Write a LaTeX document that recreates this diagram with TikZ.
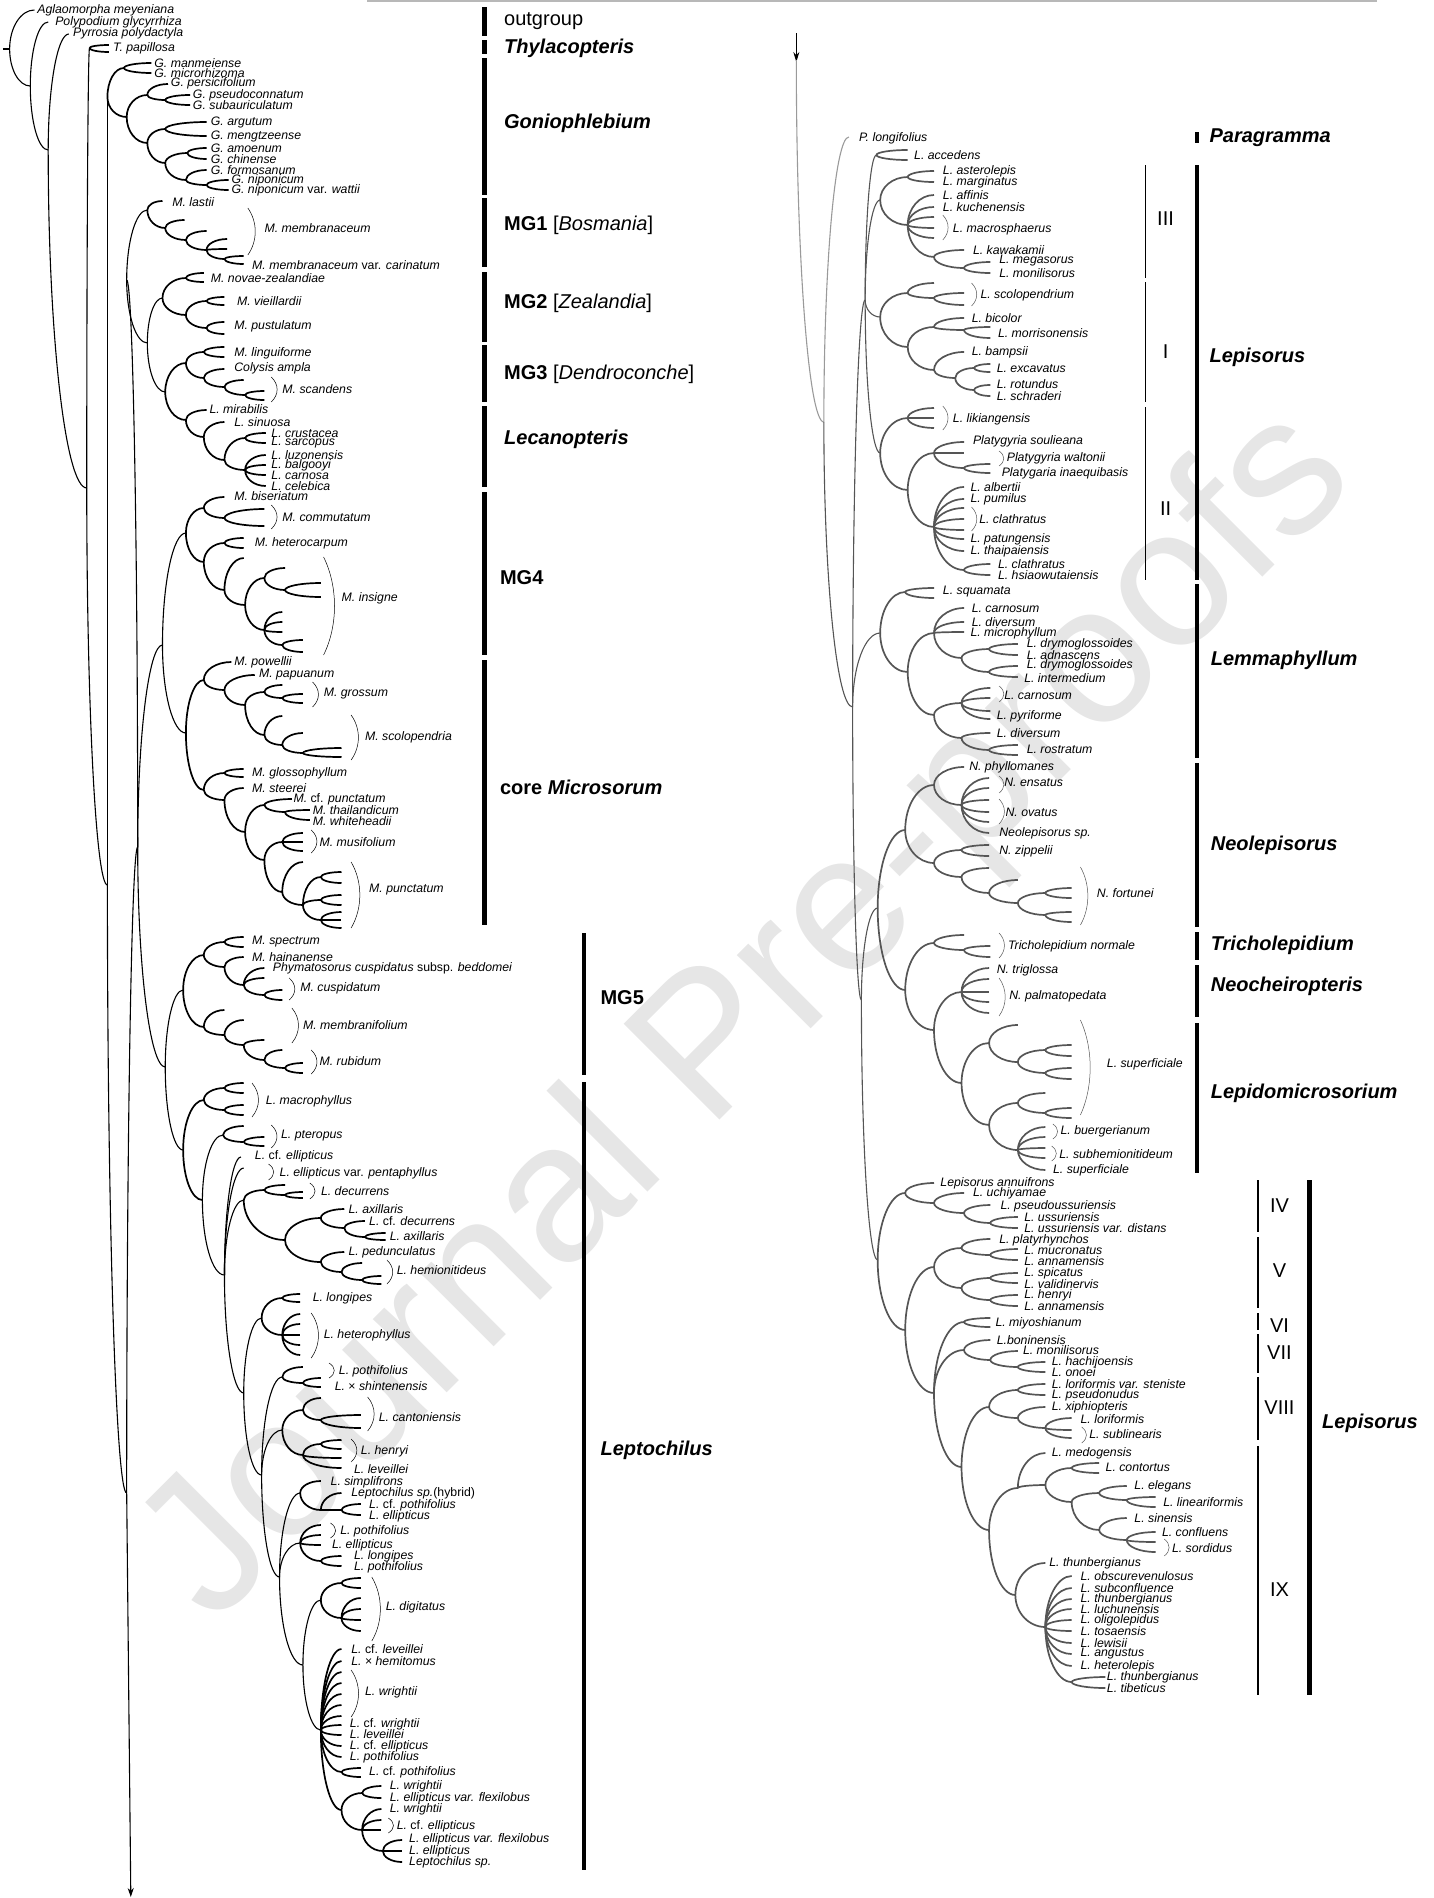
\documentclass[tikz,border=0pt]{standalone}
\usepackage{fontspec}
\setmainfont{Liberation Sans}
\usetikzlibrary{arrows.meta}
\definecolor{lepgray}{HTML}{555555}
\definecolor{rootgray}{HTML}{9A9A9A}
\definecolor{markgray}{HTML}{E6E6E6}

% one clade: parent x, parent y, list of child x/y
\newcommand\cl[4][br]{\foreach \kx/\ky in {#4}{%
  \draw[#1] (#2,#3) .. controls (#2,{#3+0.552*(\ky-#3)}) and ({#2+0.448*(\kx-#2)},\ky) .. (\kx,\ky);}}
% thin bracket round a group of tips
\newcommand\bk[4][bk]{\draw[#1] (#2,#3) .. controls ({#2+4+0.067*(#4-#3)},{#3+0.3*(#4-#3)}) and ({#2+4+0.067*(#4-#3)},{#4-0.3*(#4-#3)}) .. (#2,#4);}
\newcommand\tl[3]{\node[tip] at (#1,#2) {#3};}
\newcommand\nit[1]{\textup{#1}}

\tikzset{
  br/.style={line width=1.7pt},
  bb/.style={line width=1.1pt},
  gbr/.style={line width=1.7pt, draw=lepgray},
  gbb/.style={line width=1.1pt, draw=lepgray},
  rb/.style={line width=1.1pt, draw=rootgray},
  bk/.style={line width=0.5pt},
  gbk/.style={line width=0.5pt, draw=lepgray},
  tip/.style={anchor=west, inner sep=0pt, font=\fontsize{12.3}{13}\selectfont\itshape},
  grp/.style={anchor=west, inner sep=0pt, font=\fontsize{20}{22}\selectfont\bfseries\itshape},
  reg/.style={anchor=west, inner sep=0pt, font=\fontsize{20}{22}\selectfont},
  num/.style={inner sep=0pt, font=\fontsize{20}{22}\selectfont},
  bar/.style={line width=4.5pt},
  nbar/.style={line width=1.8pt},
}

\begin{document}
\begin{tikzpicture}[x=1pt, y=-1pt]
\useasboundingbox (0,0) rectangle (1434,1898);
% watermark
\node[text=markgray, rotate=45, font=\fontsize{197}{197}\selectfont] at (750,1018) {Journal Pre-proofs};
\draw[rootgray!70, line width=2pt] (367,1) -- (1377,1);

% ---------------- left tree ----------------
\begin{scope}[x=1.377pt]
\draw[bb] (2,49) -- (7,49);
\cl[bb]{7}{49}{25/10,22/86}
\cl[bb]{22}{86}{35/22,35/150}
\cl[bb]{35}{150}{50/34,63/488}
\cl[bb]{63}{488}{65/48,78/885}
\cl{65}{48}{79/45,79/52}
\cl[bb]{78}{885}{78/97,92/1493}
\draw[bb, -{Stealth[length=9pt, width=6pt]}] (92,1493) -- (95,1897);
% Goniophlebium
\cl{78}{97}{90/68,92/117}
\cl{90}{68}{110/63,110/73}
\cl{92}{117}{107/95,107/143}
\cl{107}{95}{122/84,120/100}
\cl{120}{100}{138/95,138/105}
\cl{107}{143}{120/129,120/163}
\cl{120}{129}{150/122,150/136}
\cl{120}{163}{136/153,135/180}
\cl{136}{153}{150/148,150/159}
\cl{135}{180}{150/170,150/185}
\cl{150}{185}{166/180,166/190}
% Microsoreae
\cl[bb]{92}{1493}{100/847}
\cl[bb]{100}{847}{92/280,118/645,120/1067}
\cl[bb]{92}{280}{107/210,107/343}
% MG1
\cl{107}{210}{118/201,120/228}
\cl{120}{228}{134/220,135/240}
\cl{135}{240}{150/231,150/250}
\cl{150}{250}{165/239,165/249,163/259}
\cl{163}{259}{177/256,177/264}
% MG2, MG3, Lecanopteris
\cl[bb]{107}{343}{118/298,120/392}
\cl{118}{298}{135/278,135/315}
\cl{135}{278}{148/273,148/282}
\cl{135}{315}{150/301,150/328}
\cl{150}{301}{163/297,163/305}
\cl{150}{328}{163/322,163/334}
\cl{120}{392}{135/363,135/420}
\cl{135}{363}{148/352,148/378}
\cl{148}{352}{163/347,163/357}
\cl{148}{378}{163/369,163/387}
\cl{163}{387}{177/380,178/395}
\cl{178}{395}{192/391,192/400}
\cl{135}{420}{150/410,148/437}
\cl{148}{437}{163/422,163/460}
\cl{163}{460}{178/438,178/470}
\cl{178}{438}{193/433,193/443}
\cl{178}{470}{193/455,193/465,193/475,193/486}
% MG4, core Microsorum
\cl[bb]{118}{645}{135/533,135/733}
\cl{135}{533}{148/508,148/562}
\cl{148}{508}{163/497,163/518}
\cl{163}{518}{192/509,192/526}
\cl{148}{562}{163/543,163/590}
\cl{163}{543}{177/538,177/548}
\cl{163}{590}{177/558,178/605}
\cl{178}{605}{192/578,192/630}
\cl{192}{578}{207/568,207/590}
\cl{207}{590}{233/583,233/597}
\cl{192}{630}{205/612,205/622,205/632,205/645}
\cl{205}{645}{220/640,220/652}
\cl{135}{733}{148/680,148/790}
\cl{148}{680}{168/662,163/690}
\cl{163}{690}{185/675,178/705}
\cl{178}{705}{192/692,192/735}
\cl{192}{692}{205/685,205/698}
\cl{205}{698}{220/694,220/703}
\cl{192}{735}{205/716,205/745}
\cl{205}{745}{220/733,220/753}
\cl{220}{753}{248/748,248/757}
\cl{148}{790}{163/773,163/800}
\cl{163}{773}{177/769,177/777}
\cl{163}{800}{177/788,178/832}
\cl{178}{832}{192/805,192/860}
\cl{192}{805}{212/799,207/812}
\cl{207}{812}{225/810,225/820}
\cl{192}{860}{205/842,205/892}
\cl{205}{842}{220/833,220/842,220/851}
\cl{205}{892}{220/862,220/905}
\cl{220}{905}{233/877,233/900,233/920}
\cl{233}{877}{248/872,248/883}
\cl{233}{900}{248/895,248/905}
\cl{233}{920}{248/912,248/920,248/928}
% MG5, Leptochilus
\cl[bb]{120}{1067}{133/990,133/1150}
\cl{133}{990}{148/955,148/1027}
\cl{148}{955}{163/942,163/967}
\cl{163}{942}{177/937,177/947}
\cl{163}{967}{177/957,177/985}
\cl{177}{985}{192/968,192/978,192/995}
\cl{192}{995}{205/990,205/1000}
\cl{148}{1027}{163/1010,163/1035}
\cl{163}{1035}{177/1020,177/1045}
\cl{177}{1045}{192/1040,192/1060}
\cl{192}{1060}{205/1050,207/1068}
\cl{207}{1068}{220/1063,220/1073}
\cl{133}{1150}{148/1100,147/1200}
\cl{148}{1100}{163/1088,163/1110}
\cl{163}{1088}{177/1083,177/1093}
\cl{163}{1110}{177/1105,177/1115}
\cl[bb]{147}{1200}{162/1135,163/1275}
\cl{162}{1135}{177/1126,177/1142}
\cl{177}{1142}{192/1137,192/1146}
\cl[bb]{163}{1275}{175/1157,177/1168,177/1200,177/1393}
\cl{177}{1200}{192/1190,207/1240}
\cl{192}{1190}{207/1185,207/1195}
\cl{207}{1195}{220/1192,220/1198}
\cl{207}{1240}{233/1218,233/1262}
\cl{233}{1218}{250/1209,250/1228}
\cl{250}{1228}{265/1221,265/1237}
\cl{265}{1237}{280/1233,280/1240}
\cl{233}{1262}{250/1252,248/1272}
\cl{248}{1272}{263/1263,263/1280}
\cl{263}{1280}{277/1276,277/1284}
\cl[bb]{177}{1393}{190/1318,190/1475}
\cl{190}{1318}{205/1298,205/1335}
\cl{205}{1298}{218/1294,218/1302}
\cl{205}{1335}{218/1314,218/1324,218/1335,218/1345,218/1355}
\cl[bb]{190}{1475}{205/1377,205/1430,203/1577}
\cl{205}{1377}{220/1367,220/1383}
\cl{220}{1383}{233/1378,233/1387}
\cl{205}{1430}{220/1410,220/1455}
\cl{220}{1410}{233/1398,233/1420}
\cl{233}{1420}{262/1415,262/1428}
\cl{220}{1455}{233/1444,248/1458,248/1468}
\cl{233}{1444}{248/1440,248/1449}
\cl[bb]{203}{1577}{218/1493,218/1543,220/1665}
\cl{218}{1493}{233/1481,233/1510}
\cl{233}{1510}{248/1493,248/1510}
\cl{248}{1510}{262/1504,262/1515}
\cl{218}{1543}{233/1525,233/1535,233/1545,233/1561}
\cl{233}{1561}{248/1556,248/1566}
\cl[bb]{220}{1665}{233/1600,233/1730}
\cl{233}{1600}{248/1583,248/1618}
\cl{248}{1583}{262/1578,262/1588}
\cl{248}{1618}{262/1598,262/1609,262/1620,262/1631}
\cl{233}{1730}{248/1649,248/1661,248/1672,248/1683,248/1694,248/1705,248/1716,248/1725,248/1735,248/1746,248/1757,248/1772,248/1810}
\cl{248}{1772}{262/1768,262/1777}
\cl{248}{1810}{263/1793,263/1830}
\cl{263}{1793}{277/1786,277/1798}
\cl{263}{1830}{277/1809,277/1820,277/1830,278/1851}
\cl{278}{1851}{292/1840,292/1851,292/1862}

% brackets, left
\bk{180}{208}{255} \bk{197}{377}{402} \bk{197}{505}{529} \bk{235}{557}{655}
\bk{227}{682}{707} \bk{255}{715}{760} \bk{226}{830}{853} \bk{255}{862}{928}
\bk{210}{978}{1000} \bk{212}{1008}{1043} \bk{226}{1050}{1074}
\bk{183}{1083}{1117} \bk{197}{1125}{1148} \bk{195}{1164}{1180} \bk{225}{1183}{1199}
\bk{281}{1260}{1284} \bk{226}{1313}{1358} \bk{239}{1363}{1378} \bk{267}{1397}{1431}
\bk{255}{1439}{1462} \bk{240}{1523}{1538} \bk{270}{1577}{1641} \bk{255}{1670}{1717}
\bk{282}{1818}{1833}

% labels, left
\tl{27}{10}{Aglaomorpha meyeniana}
\tl{40}{22}{Polypodium glycyrrhiza}
\tl{53}{33}{Pyrrosia polydactyla}
\tl{82}{48}{T. papillosa}
\tl{112}{63}{G. manmeiense}
\tl{112}{73}{G. microrhizoma}
\tl{124}{83}{G. persicifolium}
\tl{140}{95}{G. pseudoconnatum}
\tl{140}{105}{G. subauriculatum}
\tl{153}{122}{G. argutum}
\tl{153}{136}{G. mengtzeense}
\tl{153}{148}{G. amoenum}
\tl{153}{159}{G. chinense}
\tl{153}{170}{G. formosanum}
\tl{168}{180}{G. niponicum}
\tl{168}{190}{G. niponicum \nit{var.} wattii}
\tl{125}{202}{M. lastii}
\tl{192}{228}{M. membranaceum}
\tl{183}{265}{M. membranaceum \nit{var.} carinatum}
\tl{153}{278}{M. novae-zealandiae}
\tl{172}{301}{M. vieillardii}
\tl{170}{326}{M. pustulatum}
\tl{170}{353}{M. linguiforme}
\tl{170}{368}{Colysis ampla}
\tl{205}{389}{M. scandens}
\tl{152}{409}{L. mirabilis}
\tl{170}{422}{L. sinuosa}
\tl{197}{433}{L. crustacea}
\tl{197}{443}{L. sarcopus}
\tl{197}{455}{L. luzonensis}
\tl{197}{465}{L. balgooyi}
\tl{197}{475}{L. carnosa}
\tl{197}{486}{L. celebica}
\tl{170}{496}{M. biseriatum}
\tl{205}{517}{M. commutatum}
\tl{185}{543}{M. heterocarpum}
\tl{248}{598}{M. insigne}
\tl{170}{662}{M. powellii}
\tl{188}{675}{M. papuanum}
\tl{235}{694}{M. grossum}
\tl{265}{737}{M. scolopendria}
\tl{183}{773}{M. glossophyllum}
\tl{183}{788}{M. steerei}
\tl{213}{799}{M. \nit{cf.} punctatum}
\tl{227}{810}{M. thailandicum}
\tl{227}{821}{M. whiteheadii}
\tl{232}{842}{M. musifolium}
\tl{268}{890}{M. punctatum}
\tl{183}{942}{M. spectrum}
\tl{183}{957}{M. hainanense}
\tl{198}{968}{Phymatosorus cuspidatus \nit{subsp.} beddomei}
\tl{218}{988}{M. cuspidatum}
\tl{220}{1025}{M. membranifolium}
\tl{232}{1061}{M. rubidum}
\tl{193}{1101}{L. macrophyllus}
\tl{204}{1136}{L. pteropus}
\tl{185}{1156}{L. \nit{cf.} ellipticus}
\tl{203}{1173}{L. ellipticus \nit{var.} pentaphyllus}
\tl{233}{1191}{L. decurrens}
\tl{253}{1209}{L. axillaris}
\tl{268}{1221}{L. \nit{cf.} decurrens}
\tl{283}{1236}{L. axillaris}
\tl{253}{1252}{L. pedunculatus}
\tl{288}{1270}{L. hemionitideus}
\tl{227}{1298}{L. longipes}
\tl{235}{1335}{L. heterophyllus}
\tl{246}{1371}{L. pothifolius}
\tl{243}{1386}{L. \nit{\texttimes} shintenensis}
\tl{275}{1417}{L. cantoniensis}
\tl{262}{1451}{L. henryi}
\tl{257}{1469}{L. leveillei}
\tl{240}{1482}{L. simplifrons}
\tl{255}{1493}{Leptochilus sp.\nit{(hybrid)}}
\tl{268}{1505}{L. \nit{cf.} pothifolius}
\tl{268}{1516}{L. ellipticus}
\tl{247}{1531}{L. pothifolius}
\tl{241}{1545}{L. ellipticus}
\tl{257}{1556}{L. longipes}
\tl{257}{1567}{L. pothifolius}
\tl{280}{1607}{L. digitatus}
\tl{255}{1649}{L. \nit{cf.} leveillei}
\tl{255}{1661}{L. \nit{\texttimes} hemitomus}
\tl{265}{1692}{L. wrightii}
\tl{254}{1724}{L. \nit{cf.} wrightii}
\tl{254}{1734}{L. leveillei}
\tl{254}{1746}{L. \nit{cf.} ellipticus}
\tl{254}{1757}{L. pothifolius}
\tl{268}{1772}{L. \nit{cf.} pothifolius}
\tl{283}{1786}{L. wrightii}
\tl{283}{1798}{L. ellipticus var. flexilobus}
\tl{283}{1809}{L. wrightii}
\tl{288}{1826}{L. \nit{cf.} ellipticus}
\tl{297}{1839}{L. ellipticus var. flexilobus}
\tl{297}{1851}{L. ellipticus}
\tl{297}{1862}{Leptochilus sp.}

% bars, left
\draw[bar] (352,7) -- (352,36);     \node[reg] at (366,21) {outgroup};
\draw[bar] (352,40) -- (352,54);    \node[grp] at (366,48) {Thylacopteris};
\draw[bar] (352,58) -- (352,195);   \node[grp] at (366,123) {Goniophlebium};
\draw[bar] (352,198) -- (352,267);  \node[reg] at (366,225) {\textbf{MG1} [\textit{Bosmania}]};
\draw[bar] (352,272) -- (352,342);  \node[reg] at (366,303) {\textbf{MG2} [\textit{Zealandia}]};
\draw[bar] (352,345) -- (352,402);  \node[reg] at (366,374) {\textbf{MG3} [\textit{Dendroconche}]};
\draw[bar] (352,406) -- (352,487);  \node[grp] at (366,439) {Lecanopteris};
\draw[bar] (352,492) -- (352,655);  \node[reg, font=\fontsize{20}{22}\selectfont\bfseries] at (363,578) {MG4};
\draw[bar] (352,660) -- (352,925);  \node[reg, font=\fontsize{20}{22}\selectfont\bfseries] at (363,787) {core \textit{Microsorum}};
\draw[bar] (424,933) -- (424,1075); \node[reg, font=\fontsize{20}{22}\selectfont\bfseries] at (436,998) {MG5};
\draw[bar] (424,1082) -- (424,1870);\node[grp] at (436,1450) {Leptochilus};
\end{scope}

% ---------------- right tree ----------------
\begin{scope}[x=1.2516pt, xshift=-196.2pt]
\draw[line width=1.1pt, -{Stealth[length=10pt, width=6pt]}] (793,33) -- (793,62);
\cl[rb]{793}{60}{815/422}
\cl[rb]{815}{422}{835/137}
\cl[gbb]{815}{422}{838/707}
\cl[gbb]{838}{707}{848/300,860/633,845/1000}
\cl[gbb]{848}{300}{857/155,860/200,860/317,860/453}
\cl[gbr]{857}{155}{882/150,882/160}
% Lepisorus III
\cl[gbr]{860}{200}{882/177,882/225}
\cl[gbr]{882}{177}{903/171,903/182}
\cl[gbr]{882}{225}{903/195,903/207,903/217,903/228,903/238,903/257}
\cl[gbr]{903}{257}{927/250,927/268}
\cl[gbr]{927}{268}{948/262,948/273}
% Lepisorus I
\cl[gbr]{860}{317}{882/293,882/347}
\cl[gbr]{882}{293}{903/283,903/298}
\cl[gbr]{903}{298}{927/293,927/305}
\cl[gbr]{882}{347}{903/327,903/370}
\cl[gbr]{903}{327}{927/318,927/330}
\cl[gbr]{927}{330}{948/327,948/338}
\cl[gbr]{903}{370}{927/352,920/378}
\cl[gbr]{920}{378}{935/368,935/390}
\cl[gbr]{935}{368}{948/364,948/372}
\cl[gbr]{935}{390}{948/385,948/396}
% Lepisorus II
\cl[gbr]{860}{453}{882/418,882/490}
\cl[gbr]{882}{418}{903/408,903/418,903/428}
\cl[gbr]{882}{490}{903/453,903/527}
\cl[gbr]{903}{453}{927/442,927/453,927/468}
\cl[gbr]{927}{468}{948/464,948/473}
\cl[gbr]{903}{527}{927/487,927/499,927/508,927/519,927/530,927/539,927/551,927/570}
\cl[gbr]{927}{570}{948/564,948/575}
% Lemmaphyllum
\cl[gbr]{860}{633}{880/592,882/672}
\cl[gbr]{880}{592}{903/588,903/598}
\cl[gbr]{882}{672}{903/633,903/715}
\cl[gbr]{903}{633}{927/608,927/622,927/632,925/658}
\cl[gbr]{925}{658}{947/649,947/672}
\cl[gbr]{947}{649}{970/644,970/655}
\cl[gbr]{947}{672}{970/666,970/677}
\cl[gbr]{903}{715}{925/703,925/738}
\cl[gbr]{925}{703}{948/688,948/698,948/711,948/719}
\cl[gbr]{925}{738}{948/733,947/750}
\cl[gbr]{947}{750}{970/745,970/755}
% Neolepisorus ... Lepidomicrosorium
\cl[gbb]{845}{1000}{858/908,858/1260}
\cl[gbr]{858}{908}{880/830,880/990}
\cl[gbr]{880}{830}{903/785,903/863}
\cl[gbr]{903}{785}{927/767,925/805}
\cl[gbr]{925}{805}{947/778,947/788,947/800,947/812,947/822,947/833}
\cl[gbr]{903}{863}{925/850,925/877}
\cl[gbr]{925}{850}{947/845,947/856}
\cl[gbr]{925}{877}{947/868,947/893}
\cl[gbr]{947}{893}{970/880,970/903}
\cl[gbr]{970}{903}{992/893,992/915}
\cl[gbr]{992}{893}{1013/888,1013/898}
\cl[gbr]{992}{915}{1013/912,1013/922}
\cl[gbr]{880}{990}{903/943,903/1030}
\cl[gbr]{903}{943}{927/935,927/950}
\cl[gbr]{927}{950}{948/946,948/957}
\cl[gbr]{903}{1030}{925/992,925/1083}
\cl[gbr]{925}{992}{947/968,947/979,947/992,947/1002,947/1013}
\cl[gbr]{925}{1083}{947/1043,947/1125}
\cl[gbr]{947}{1043}{970/1025,970/1062}
\cl[gbr]{970}{1062}{992/1050,992/1073}
\cl[gbr]{992}{1050}{1013/1045,1013/1056}
\cl[gbr]{992}{1073}{1013/1068,1013/1079}
\cl[gbr]{947}{1125}{970/1103,970/1150}
\cl[gbr]{970}{1103}{992/1093,992/1113}
\cl[gbr]{992}{1113}{1013/1108,1013/1118}
\cl[gbr]{970}{1150}{992/1127,992/1137,992/1148,992/1158,992/1170}
% Lepisorus IV-IX
\cl[gbr]{858}{1260}{880/1193,880/1330}
\cl[gbr]{880}{1193}{903/1183,903/1203}
\cl[gbr]{903}{1203}{927/1193,927/1213}
\cl[gbr]{927}{1213}{948/1205,948/1223}
\cl[gbr]{948}{1223}{970/1217,970/1228}
\cl[gbr]{880}{1330}{903/1267,903/1393}
\cl[gbr]{903}{1267}{925/1248,925/1288}
\cl[gbr]{925}{1248}{948/1239,948/1255}
\cl[gbr]{948}{1255}{970/1249,970/1260}
\cl[gbr]{925}{1288}{948/1278,948/1300}
\cl[gbr]{948}{1278}{970/1273,970/1283}
\cl[gbr]{948}{1300}{970/1295,970/1306}
\cl[gbr]{903}{1393}{927/1322,927/1350,925/1467}
\cl[gbr]{927}{1322}{948/1318,948/1327}
\cl[gbr]{927}{1350}{948/1340,948/1360}
\cl[gbr]{948}{1360}{970/1351,970/1367}
\cl[gbr]{970}{1367}{992/1362,992/1372}
\cl[gbr]{925}{1467}{947/1407,947/1530}
\cl[gbr]{947}{1407}{970/1390,970/1418}
\cl[gbr]{970}{1390}{992/1384,992/1395}
\cl[gbr]{970}{1418}{992/1407,992/1428}
\cl[gbr]{992}{1428}{1013/1418,1013/1430,1013/1438}
\cl[gbr]{947}{1530}{970/1488,968/1595}
\cl[gbr]{970}{1488}{992/1453,992/1485}
\cl[gbr]{992}{1485}{1013/1468,1013/1502}
\cl[gbr]{1013}{1468}{1035/1463,1035/1473}
\cl[gbr]{1013}{1502}{1035/1493,1035/1530}
\cl[gbr]{1035}{1493}{1057/1486,1057/1500}
\cl[gbr]{1057}{1500}{1080/1497,1080/1507}
\cl[gbr]{1035}{1530}{1057/1518,1057/1540}
\cl[gbr]{1057}{1540}{1080/1532,1080/1542,1080/1552}
\cl[gbr]{968}{1595}{992/1563,992/1627}
\cl[gbr]{992}{1627}{1013/1576,1013/1588,1013/1599,1013/1609,1013/1620,1013/1631,1013/1643,1013/1654,1013/1666,1013/1682}
\cl[gbr]{1013}{1682}{1040/1677,1040/1688}

% brackets, right
\bk[gbk]{910}{215}{240} \bk[gbk]{933}{283}{306} \bk[gbk]{910}{406}{430}
\bk[gbk]{955}{451}{466} \bk[gbk]{933}{507}{531} \bk[gbk]{955}{686}{702}
\bk[gbk]{955}{776}{793} \bk[gbk]{955}{799}{824} \bk[gbk]{1020}{867}{925}
\bk[gbk]{955}{933}{958} \bk[gbk]{955}{978}{1016} \bk[gbk]{1020}{1020}{1115}
\bk[gbk]{998}{1124}{1139} \bk[gbk]{997}{1146}{1161} \bk[gbk]{1021}{1427}{1443}
\bk[gbk]{1087}{1539}{1556}

% labels, right
\tl{843}{138}{P. longifolius}
\tl{887}{155}{L. accedens}
\tl{910}{171}{L. asterolepis}
\tl{910}{182}{L. marginatus}
\tl{910}{195}{L. affinis}
\tl{910}{207}{L. kuchenensis}
\tl{918}{229}{L. macrosphaerus}
\tl{934}{250}{L. kawakamii}
\tl{955}{261}{L. megasorus}
\tl{955}{273}{L. monilisorus}
\tl{940}{295}{L. scolopendrium}
\tl{933}{318}{L. bicolor}
\tl{954}{333}{L. morrisonensis}
\tl{933}{352}{L. bampsii}
\tl{953}{368}{L. excavatus}
\tl{953}{384}{L. rotundus}
\tl{953}{396}{L. schraderi}
\tl{918}{419}{L. likiangensis}
\tl{934}{441}{Platygyria soulieana}
\tl{961}{458}{Platygyria waltonii}
\tl{957}{473}{Platygaria inaequibasis}
\tl{932}{487}{L. albertii}
\tl{932}{499}{L. pumilus}
\tl{939}{519}{L. clathratus}
\tl{932}{539}{L. patungensis}
\tl{932}{551}{L. thaipaiensis}
\tl{954}{564}{L. clathratus}
\tl{954}{575}{L. hsiaowutaiensis}
\tl{910}{592}{L. squamata}
\tl{933}{608}{L. carnosum}
\tl{933}{622}{L. diversum}
\tl{932}{633}{L. microphyllum}
\tl{977}{644}{L. drymoglossoides}
\tl{977}{655}{L. adnascens}
\tl{977}{665}{L. drymoglossoides}
\tl{975}{678}{L. intermedium}
\tl{959}{695}{L. carnosum}
\tl{953}{716}{L. pyriforme}
\tl{953}{733}{L. diversum}
\tl{977}{749}{L. rostratum}
\tl{931}{767}{N. phyllomanes}
\tl{959}{782}{N. ensatus}
\tl{960}{812}{N. ovatus}
\tl{955}{833}{Neolepisorus sp.}
\tl{955}{851}{N. zippelii}
\tl{1033}{893}{N. fortunei}
\tl{962}{946}{Tricholepidium normale}
\tl{953}{970}{N. triglossa}
\tl{963}{996}{N. palmatopedata}
\tl{1041}{1064}{L. superficiale}
\tl{1004}{1131}{L. buergerianum}
\tl{1003}{1154}{L. subhemionitideum}
\tl{998}{1170}{L. superficiale}
\tl{908}{1183}{Lepisorus annuifrons}
\tl{934}{1193}{L. uchiyamae}
\tl{956}{1206}{L. pseudoussuriensis}
\tl{975}{1217}{L. ussuriensis}
\tl{975}{1228}{L. ussuriensis var. distans}
\tl{955}{1240}{L. platyrhynchos}
\tl{975}{1250}{L. mucronatus}
\tl{975}{1261}{L. annamensis}
\tl{975}{1273}{L. spicatus}
\tl{975}{1284}{L. validinervis}
\tl{975}{1295}{L. henryi}
\tl{975}{1306}{L. annamensis}
\tl{952}{1323}{L. miyoshianum}
\tl{953}{1340}{L.boninensis}
\tl{974}{1350}{L. monilisorus}
\tl{997}{1362}{L. hachijoensis}
\tl{997}{1372}{L. onoei}
\tl{997}{1384}{L. loriformis var. steniste}
\tl{997}{1395}{L. pseudonudus}
\tl{997}{1407}{L. xiphiopteris}
\tl{1020}{1419}{L. loriformis}
\tl{1027}{1434}{L. sublinearis}
\tl{997}{1453}{L. medogensis}
\tl{1040}{1467}{L. contortus}
\tl{1063}{1486}{L. elegans}
\tl{1086}{1502}{L. lineariformis}
\tl{1063}{1518}{L. sinensis}
\tl{1085}{1532}{L. confluens}
\tl{1093}{1548}{L. sordidus}
\tl{995}{1563}{L. thunbergianus}
\tl{1020}{1576}{L. obscurevenulosus}
\tl{1020}{1588}{L. subconfluence}
\tl{1020}{1599}{L. thunbergianus}
\tl{1020}{1609}{L. luchunensis}
\tl{1020}{1620}{L. oligolepidus}
\tl{1020}{1631}{L. tosaensis}
\tl{1020}{1643}{L. lewisii}
\tl{1020}{1654}{L. angustus}
\tl{1020}{1666}{L. heterolepis}
\tl{1041}{1677}{L. thunbergianus}
\tl{1041}{1688}{L. tibeticus}

% bars, right
\draw[bar] (1113,132) -- (1113,143);  \node[grp] at (1123,138) {Paragramma};
\draw[bar] (1113,165) -- (1113,580);  \node[grp] at (1123,357) {Lepisorus};
\draw[nbar] (1072,165) -- (1072,278); \node[num] at (1088,219) {III};
\draw[nbar] (1072,282) -- (1072,402); \node[num] at (1088,352) {I};
\draw[nbar] (1072,407) -- (1072,580); \node[num] at (1088,509) {II};
\draw[bar] (1113,584) -- (1113,758);  \node[grp] at (1124,660) {Lemmaphyllum};
\draw[bar] (1113,763) -- (1113,927);  \node[grp] at (1124,845) {Neolepisorus};
\draw[bar] (1113,932) -- (1113,960);  \node[grp] at (1124,945) {Tricholepidium};
\draw[bar] (1113,965) -- (1113,1017); \node[grp] at (1124,986) {Neocheiropteris};
\draw[bar] (1113,1023) -- (1113,1173);\node[grp] at (1124,1093) {Lepidomicrosorium};
\draw[bar] (1203,1180) -- (1203,1695);\node[grp] at (1213,1423) {Lepisorus};
\draw[nbar] (1162,1180) -- (1162,1232); \node[num] at (1179,1206) {IV};
\draw[nbar] (1162,1237) -- (1162,1308); \node[num] at (1179,1271) {V};
\draw[nbar] (1162,1313) -- (1162,1330); \node[num] at (1179,1326) {VI};
\draw[nbar] (1162,1334) -- (1162,1373); \node[num] at (1179,1353) {VII};
\draw[nbar] (1162,1377) -- (1162,1440); \node[num] at (1179,1408) {VIII};
\draw[nbar] (1162,1446) -- (1162,1695); \node[num] at (1179,1590) {IX};
\end{scope}
\end{tikzpicture}
\end{document}
